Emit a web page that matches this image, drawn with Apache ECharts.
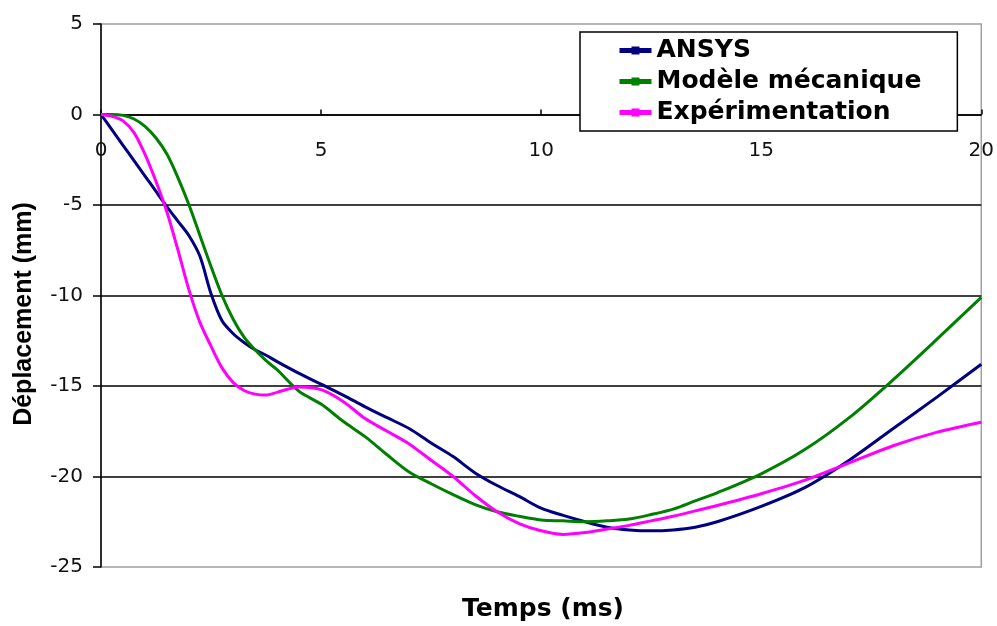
<!DOCTYPE html>
<html>
<head>
<meta charset="utf-8">
<script src="https://cdn.jsdelivr.net/npm/echarts@6/dist/echarts.min.js"></script>
<style>
  html, body { margin: 0; padding: 0; background: #fff; }
  #chart1 { width: 997px; height: 626px; }
</style>
</head>
<body>
<div id="chart1"></div>
<script>
// temps (ms)
var timeData = [0, 0.25, 0.5, 0.75, 1, 1.25, 1.5, 1.75, 2, 2.25, 2.5, 2.75, 3, 3.25, 3.5, 3.75, 4,
    4.5, 5, 5.5, 6, 6.5, 7, 7.5, 8, 8.5, 9, 9.5, 10, 10.5, 11, 11.5, 12, 12.5, 13, 13.5, 14,
    15, 16, 17, 18, 19, 20]
// déplacement (mm)
var ansysData = [0, -0.85, -1.7, -2.55, -3.4, -4.25, -5.1, -5.9, -6.7, -7.85, -9.9, -11.4, -12.1, -12.6, -13.0, -13.3, -13.65,
    -14.3, -14.9, -15.5, -16.15, -16.75, -17.35, -18.15, -18.9, -19.8, -20.5, -21.1, -21.75, -22.15, -22.5, -22.8, -22.95, -23.0, -22.95, -22.8, -22.5,
    -21.65, -20.6, -19.1, -17.35, -15.6, -13.8]
var modeleData = [0, 0, -0.05, -0.25, -0.65, -1.3, -2.2, -3.5, -5.0, -6.7, -8.4, -10.0, -11.3, -12.3, -13.0, -13.6, -14.1,
    -15.3, -16.0, -16.95, -17.8, -18.8, -19.75, -20.4, -21.0, -21.55, -21.95, -22.2, -22.4, -22.45, -22.5, -22.45, -22.35, -22.1, -21.8, -21.35, -20.9,
    -19.85, -18.5, -16.75, -14.65, -12.4, -10.1]
var experData = [0, -0.1, -0.35, -1.0, -2.2, -3.7, -5.4, -7.5, -9.7, -11.5, -12.8, -14.0, -14.8, -15.25, -15.45, -15.5, -15.35,
    -15.05, -15.2, -15.85, -16.8, -17.5, -18.2, -19.1, -20.0, -21.05, -21.95, -22.6, -23.0, -23.2, -23.1, -22.9, -22.7, -22.45, -22.2, -21.9, -21.6,
    -20.95, -20.2, -19.25, -18.3, -17.55, -17.0]
var seriesNames = ['ANSYS', 'Modèle mécanique', 'Expérimentation']
var seriesColors = ['#000080', '#008000', '#ff00ff']

function pairs (ys) {
    var out = []
    for (var i = 0; i < timeData.length; i++) {
        out.push([timeData[i], ys[i]])
    }
    return out
}

var chart1 = echarts.init(document.getElementById('chart1'))
var allData = [ansysData, modeleData, experData]
var series = []
for (var k = 0; k < allData.length; k++) {
    series.push({
        name: seriesNames[k],
        type: 'line',
        smooth: 0.3,
        // symbole plat : dans la légende il disparaît sous le trait
        symbol: 'path://M0,0h10v1h-10z',
        showSymbol: false,
        lineStyle: { width: 3, color: seriesColors[k] },
        itemStyle: { color: seriesColors[k] },
        data: pairs(allData[k])
    })
}

var option = {
    animation: false,
    color: seriesColors,
    grid: {
        left: 101,
        right: 12,
        top: 24,
        bottom: 59,
        show: true,
        borderColor: '#a0a0a0',
        borderWidth: 1.5
    },
    legend: {
        orient: 'vertical',
        left: 580,
        top: 32,
        backgroundColor: '#fff',
        borderColor: '#000',
        borderWidth: 1.5,
        borderRadius: 0,
        padding: [5, 36, 5, 37],
        itemWidth: 32,
        itemHeight: 10,
        itemGap: 4,
        lineStyle: { width: 5 },
        textStyle: {
            fontFamily: 'DejaVu Sans',
            fontWeight: 'bold',
            fontSize: 25,
            lineHeight: 27,
            color: '#000'
        },
        data: seriesNames
    },
    xAxis: {
        type: 'value',
        min: 0,
        max: 20,
        interval: 5,
        position: 'bottom',
        offset: -452.5, // axe horizontal sur y = 0
        axisLine: { onZero: false, lineStyle: { color: '#000', width: 1.5 } },
        axisTick: { inside: true, length: 5, lineStyle: { color: '#000', width: 1.5 } },
        axisLabel: { margin: 26, fontFamily: 'DejaVu Sans', fontSize: 20, color: '#111' },
        splitLine: { show: false }
    },
    yAxis: {
        type: 'value',
        min: -25,
        max: 5,
        interval: 5,
        axisLine: { show: true, lineStyle: { color: '#000', width: 1.5 } },
        axisTick: { show: true, length: 8, lineStyle: { color: '#000', width: 1.5 } },
        axisLabel: { margin: 18, fontFamily: 'DejaVu Sans', fontSize: 20, color: '#111' },
        splitLine: {
            show: true,
            showMinLine: false,
            showMaxLine: false,
            lineStyle: { color: '#000', width: 1.5 }
        }
    },
    graphic: [
        {
            type: 'text',
            x: 543,
            y: 609,
            style: {
                text: 'Temps (ms)',
                fontFamily: 'DejaVu Sans',
                fontWeight: 'bold',
                fontSize: 25,
                fill: '#000',
                align: 'center',
                verticalAlign: 'middle'
            }
        },
        {
            type: 'text',
            x: 24,
            y: 314,
            rotation: Math.PI / 2,
            style: {
                text: 'Déplacement (mm)',
                fontFamily: 'Liberation Sans',
                fontWeight: 'bold',
                fontSize: 25,
                fill: '#000',
                align: 'center',
                verticalAlign: 'middle'
            }
        }
    ],
    series: series
}
chart1.setOption(option)
</script>
</body>
</html>
